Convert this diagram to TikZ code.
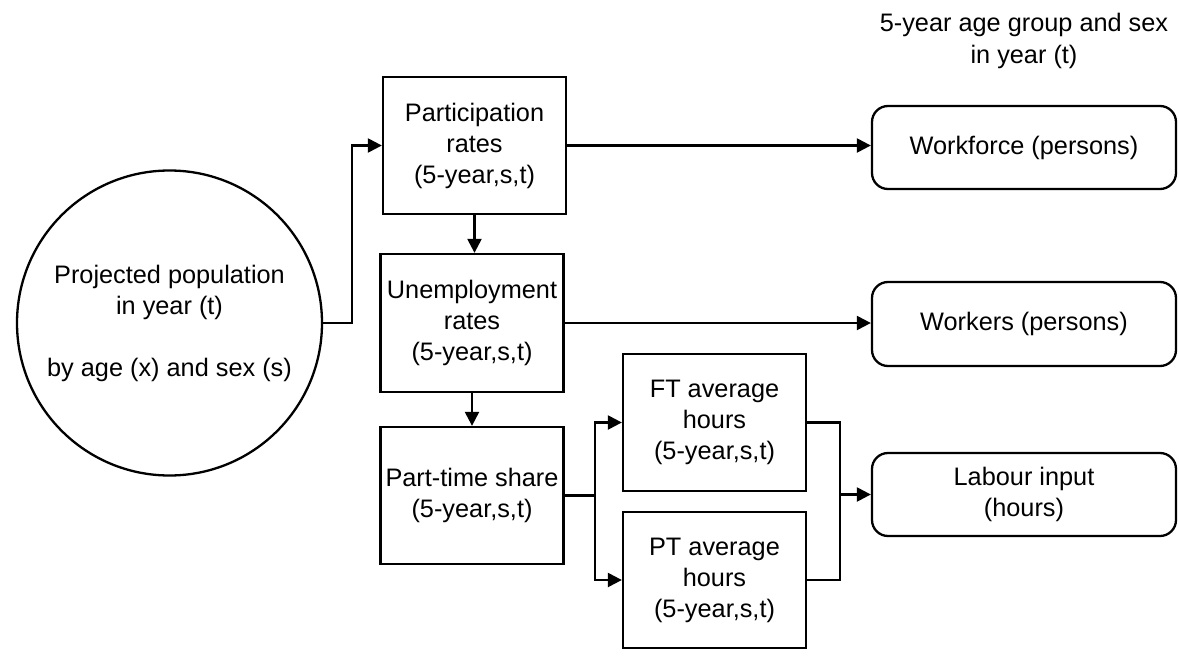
\documentclass[tikz,border=0pt]{standalone}
\usepackage{fontspec}
\setmainfont{Liberation Sans}
\usetikzlibrary{arrows.meta}
\begin{document}
\begin{tikzpicture}[x=1pt,y=-1pt,
  every node/.style={font=\fontsize{25.3}{31}\selectfont},
  box/.style={draw,line width=2.3pt,rectangle,align=center,inner sep=0pt,minimum width=183pt,minimum height=137pt},
  outbox/.style={draw,line width=2.3pt,rectangle,rounded corners=16pt,align=center,inner sep=0pt,minimum width=304pt,minimum height=83pt},
  conn/.style={line width=2.3pt},
  arr/.style={line width=2.3pt,-{Triangle[length=14pt,width=14pt]}}]
\useasboundingbox (0,0) rectangle (1179,664);
\node[draw,circle,line width=2.3pt,minimum size=305pt,inner sep=0pt,align=center] (pop) at (169.5,323) {Projected population\\in year (t)\\[31pt]by age (x) and sex (s)};
\node[box] (part) at (474.5,145.5) {Participation\\rates\\(5-year,s,t)};
\node[box,minimum height=138pt] (unemp) at (472,323) {Unemployment\\rates\\(5-year,s,t)};
\node[box] (pts) at (472,495.5) {Part-time share\\(5-year,s,t)};
\node[box] (ft) at (714.5,422.5) {FT average\\hours\\(5-year,s,t)};
\node[box,minimum height=136pt] (pt) at (714.5,580) {PT average\\hours\\(5-year,s,t)};
\node[outbox] (wf) at (1024,147.5) {Workforce (persons)};
\node[outbox,minimum height=84pt] (wk) at (1024,324) {Workers (persons)};
\node[outbox] (li) at (1024,494.5) {Labour input\\(hours)};
\node[align=center,font=\fontsize{25.3}{32}\selectfont] (hdr) at (1024,41) {5-year age group and sex\\in year (t)};
\draw[arr] (pop.east) -- ++(29,0) coordinate (j1) |- (part.west);
\draw[arr] (part.east) -- (part.east -| wf.west);
\draw[arr] (part.south) -- (part.south |- unemp.north);
\draw[arr] (unemp.east) -- (unemp.east -| wk.west);
\draw[arr] (unemp.south) -- (unemp.south |- pts.north);
\draw[conn] (pts.east) -- ++(30,0) coordinate (j2);
\draw[arr] (j2) |- (ft.west);
\draw[arr] (j2) |- (pt.west);
\draw[conn] (ft.east) -- ++(33,0) coordinate (j3) -- (j3 |- pt.east) -- (pt.east);
\draw[arr] (j3 |- li.west) -- (li.west);
\end{tikzpicture}
\end{document}
